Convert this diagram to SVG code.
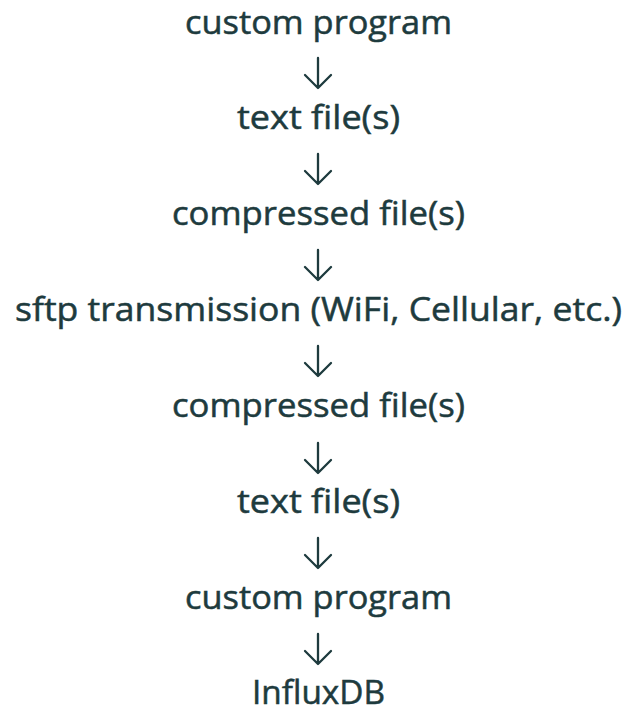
<svg xmlns="http://www.w3.org/2000/svg" width="625" height="713" viewBox="0 0 625 713">
<style>
.t{font-family:"Open Sans","Liberation Sans",sans-serif;font-size:32px;fill:#1e3b3e;stroke:#1e3b3e;stroke-width:0.5;text-anchor:middle}
.a{fill:none;stroke:#1e3b3e;stroke-width:2.3;stroke-linecap:round;stroke-linejoin:round}
</style>
<rect width="625" height="713" fill="#ffffff"/>
<g id="n1"><text class="t" x="318.5" y="34" textLength="267" lengthAdjust="spacingAndGlyphs">custom program</text></g>
<g id="n2"><text class="t" x="318.5" y="129" textLength="163" lengthAdjust="spacingAndGlyphs">text file(s)</text></g>
<g id="n3"><text class="t" x="318.5" y="225" textLength="293" lengthAdjust="spacingAndGlyphs">compressed file(s)</text></g>
<g id="n4"><text class="t" x="318.5" y="321" textLength="607" lengthAdjust="spacingAndGlyphs">sftp transmission (WiFi, Cellular, etc.)</text></g>
<g id="n5"><text class="t" x="318.5" y="417" textLength="293" lengthAdjust="spacingAndGlyphs">compressed file(s)</text></g>
<g id="n6"><text class="t" x="318.5" y="513" textLength="163" lengthAdjust="spacingAndGlyphs">text file(s)</text></g>
<g id="n7"><text class="t" x="318.5" y="609" textLength="267" lengthAdjust="spacingAndGlyphs">custom program</text></g>
<g id="n8"><text class="t" x="318.5" y="704" textLength="133" lengthAdjust="spacingAndGlyphs">InfluxDB</text></g>
<g id="connectors">
<path class="a" d="M318 58V88M305 75L318 88L331 75"/>
<path class="a" d="M318 154V184M305 171L318 184L331 171"/>
<path class="a" d="M318 250V280M305 267L318 280L331 267"/>
<path class="a" d="M318 346V376M305 363L318 376L331 363"/>
<path class="a" d="M318 443V473M305 460L318 473L331 460"/>
<path class="a" d="M318 538V568M305 555L318 568L331 555"/>
<path class="a" d="M318 634V664M305 651L318 664L331 651"/>
</g>
</svg>
